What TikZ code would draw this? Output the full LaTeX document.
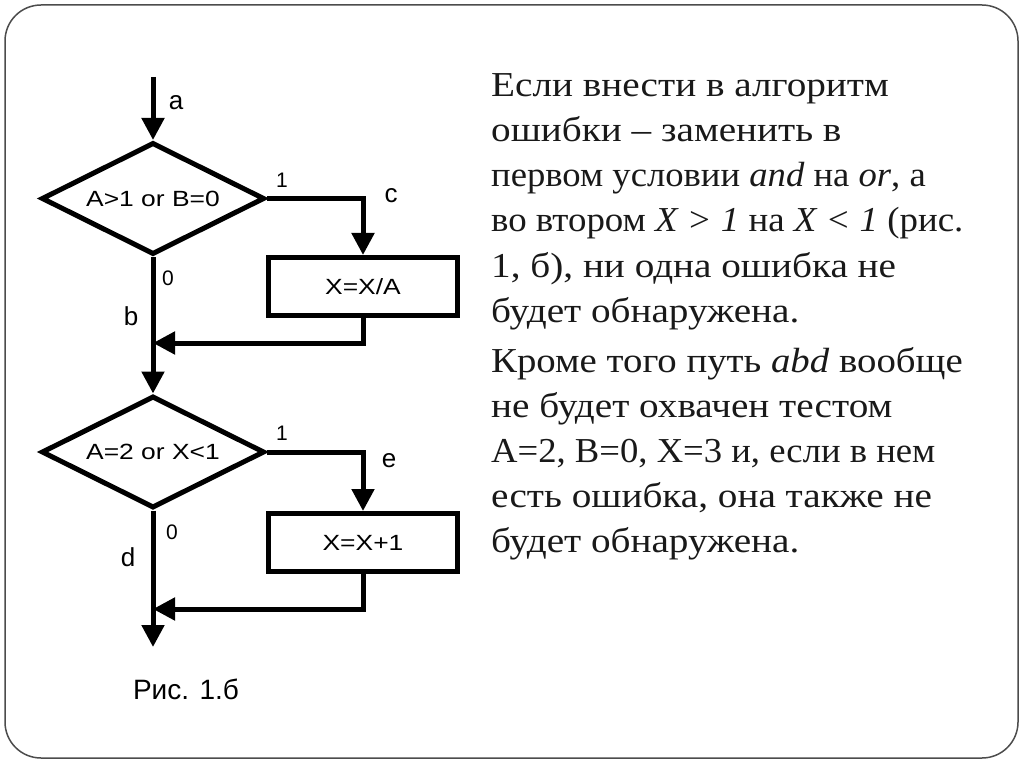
\documentclass[tikz,border=0pt]{standalone}
\usepackage{fontspec}
\setmainfont{Liberation Serif}[FakeStretch=1.12]
\newfontfamily\arialf{Liberation Sans}
\usetikzlibrary{arrows.meta,shapes.geometric}
\tikzset{
  flow/.style={line width=5pt, draw=black},
  arr/.style={flow, -{Triangle[width=22pt,length=22pt]}},
  dec/.style={diamond, draw, line width=5pt, minimum width=223pt, minimum height=112pt, inner sep=0pt, aspect=2, font=\arialf\fontsize{22}{26}\selectfont},
  proc/.style={rectangle, draw, line width=5pt, minimum width=189pt, minimum height=58pt, inner sep=0pt, font=\arialf\fontsize{22}{26}\selectfont},
  lbl/.style={font=\arialf\fontsize{26}{30}\selectfont, inner sep=0pt},
  num/.style={font=\arialf\fontsize{21}{25}\selectfont, inner sep=0pt},
  body/.style={anchor=base west, inner sep=0pt, font=\fontsize{35}{45}\selectfont, text=black!90},
  frame/.style={draw=black!70, line width=1.5pt, rounded corners=36pt}
}
\begin{document}
\begin{tikzpicture}[x=1pt,y=-1pt]
\useasboundingbox (0,0) rectangle (1024,767);
\draw[frame] (5,5) rectangle (1018,758);
% flowchart
\coordinate (start) at (153,77);
\node[dec] (d1) at (153,198.5) {\scalebox{1.2}[1]{A>1 or B=0}};
\node[proc] (b1) at (363,286.5) {\scalebox{1.2}[1]{X=X/A}};
\coordinate (j1) at (153,343);
\node[dec] (d2) at (153,452) {\scalebox{1.2}[1]{A=2 or X<1}};
\node[proc] (b2) at (363,542.5) {\scalebox{1.2}[1]{X=X+1}};
\coordinate (j2) at (153,609);
\coordinate (end) at (153,647);
\draw[arr] (start) -- (d1.north);
\draw[arr] (d1.south) -- (d2.north);
\draw[arr] (d1.east) -| (b1.north);
\draw[arr] (b1.south) |- (j1);
\draw[arr] (d2.south) -- (end);
\draw[arr] (d2.east) -| (b2.north);
\draw[arr] (b2.south) |- (j2);
% labels
\node[lbl] (la) at (176,103) {a};
\node[num] (l1a) at (282,180) {1};
\node[lbl] (lc) at (391,196) {c};
\node[num] (l0a) at (168,278) {0};
\node[lbl] (lb) at (131,316) {b};
\node[num] (l1b) at (282,433) {1};
\node[lbl] (le) at (389,461) {e};
\node[num] (l0b) at (172,532) {0};
\node[lbl] (ld) at (128,557) {d};
\node[font=\arialf\fontsize{28}{32}\selectfont, inner sep=0pt] (cap) at (186,689) {Рис. 1.б};
% text
\node[body] (t1) at (491,97) {Если внести в алгоритм};
\node[body] (t2) at (491,142) {ошибки – заменить в};
\node[body] (t3) at (491,187) {\scalebox{0.935}[1]{первом условии \textit{and} на \textit{or}, а}};
\node[body] (t4) at (491,232) {\scalebox{0.94}[1]{во втором \textit{X > 1} на \textit{X < 1} (рис.}};
\node[body] (t5) at (491,277) {1, б), ни одна ошибка не};
\node[body] (t6) at (491,322) {будет обнаружена.};
\node[body] (t7) at (491,372) {\scalebox{0.99}[1]{Кроме того путь \textit{abd} вообще}};
\node[body] (t8) at (491,417) {не будет охвачен тестом};
\node[body] (t9) at (491,462) {\scalebox{0.935}[1]{А=2, В=0, Х=3 и, если в нем}};
\node[body] (t10) at (491,507) {есть ошибка, она также не};
\node[body] (t11) at (491,552) {будет обнаружена.};
\end{tikzpicture}
\end{document}
